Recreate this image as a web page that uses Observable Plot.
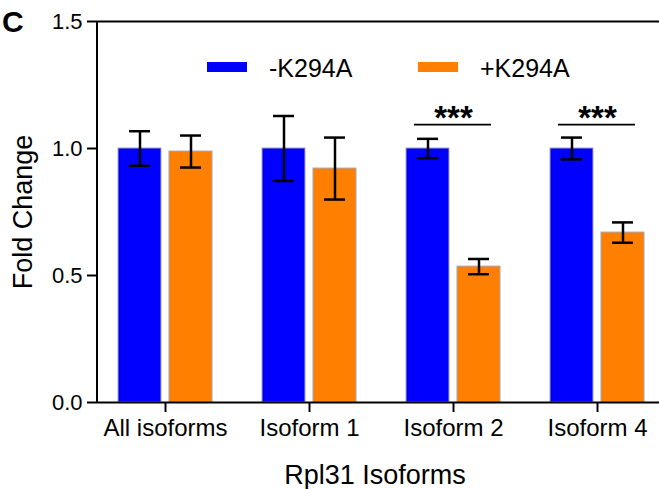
<!DOCTYPE html>
<html>
<head>
<meta charset="utf-8">
<script src="https://cdn.jsdelivr.net/npm/d3@7"></script>
<script src="https://cdn.jsdelivr.net/npm/@observablehq/plot@0.6"></script>
<style>
  body { margin: 0; background: #fff; }
  #chart { position: relative; width: 659px; height: 489px; }
  #chart svg [aria-label="x-axis label"] text, #chart svg [aria-label="y-axis label"] text { font-size: 27px; }
  #chart svg [aria-label="x-axis tick label"] text { font-size: 24px; }
  #chart svg [aria-label="x-axis tick"] path, #chart svg [aria-label="y-axis tick"] path { stroke-width: 2px; stroke: #000; }
</style>
</head>
<body>
<div id="chart"></div>
<script>
// ---- data ----
const groups = ["All isoforms", "Isoform 1", "Isoform 2", "Isoform 4"];
const series = ["-K294A", "+K294A"];
const minusMean = [1.0, 1.0, 1.0, 1.0];
const minusErr = [0.068, 0.128, 0.038, 0.043];
const plusMean = [0.988, 0.921, 0.535, 0.669];
const plusErr = [0.063, 0.122, 0.030, 0.040];
const colors = ["#0000ff", "#ff8000"];
const yTicks = [0, 0.5, 1.0, 1.5];
const sigGroups = ["Isoform 2", "Isoform 4"];
const sigLabel = "***";
const sigLevel = 1.094;
const xTitle = "Rpl31 Isoforms";
const yTitle = "Fold Change";
const panelLetter = "C";

// ---- tables ----
const minusRows = groups.map((g, i) => ({group: g, series: series[0], mean: minusMean[i], err: minusErr[i]}));
const plusRows = groups.map((g, i) => ({group: g, series: series[1], mean: plusMean[i], err: plusErr[i]}));
const capsOf = rows => rows.flatMap(d => [{group: d.group, v: d.mean - d.err}, {group: d.group, v: d.mean + d.err}]);
const sig = sigGroups.map(g => ({group: g, y: sigLevel}));
const hLines = [yTicks[0], yTicks[yTicks.length - 1]];

const W = 659, H = 489, ML = 97, MR = 7, MT = 21, MB = 87;
const font = '"Liberation Sans", Arial, Helvetica, sans-serif';
const barStroke = "#a4a4b4";

const plot = Plot.plot({
  width: W, height: H,
  marginLeft: ML, marginRight: MR, marginTop: MT, marginBottom: MB,
  style: {fontFamily: font, fontSize: "22px", color: "#000", background: "#fff", overflow: "visible"},
  x: {domain: groups, paddingInner: 50 / 144, paddingOuter: 29 / 288, align: 21 / 29, round: false,
      tickSize: 10, tickPadding: 6, label: xTitle, labelAnchor: "center", labelOffset: 81, labelArrow: "none"},
  y: {domain: [0, 1.5], ticks: yTicks, tickFormat: ".1f", tickSize: 10, tickPadding: 5,
      label: yTitle, labelAnchor: "center", labelOffset: 85, labelArrow: "none"},
  color: {domain: series, range: colors},
  marks: [
    Plot.barY(minusRows, {x: "group", y: "mean", fill: "series", insetRight: 51, stroke: barStroke, strokeWidth: 1}),
    Plot.barY(plusRows, {x: "group", y: "mean", fill: "series", insetLeft: 51, stroke: barStroke, strokeWidth: 1}),
    Plot.ruleX(minusRows, {x: "group", y1: d => d.mean - d.err, y2: d => d.mean + d.err, dx: -25.5, stroke: "#000", strokeWidth: 2.5}),
    Plot.ruleX(plusRows, {x: "group", y1: d => d.mean - d.err, y2: d => d.mean + d.err, dx: 25.5, stroke: "#000", strokeWidth: 2.5}),
    Plot.tickY(capsOf(minusRows), {x: "group", y: "v", insetLeft: 11, insetRight: 62, stroke: "#000", strokeWidth: 2.5}),
    Plot.tickY(capsOf(plusRows), {x: "group", y: "v", insetLeft: 62, insetRight: 11, stroke: "#000", strokeWidth: 2.5}),
    Plot.tickY(sig, {x: "group", y: "y", insetLeft: 8, insetRight: 9, stroke: "#000", strokeWidth: 1.6}),
    Plot.text(sig, {x: "group", y: "y", text: () => sigLabel, lineAnchor: "bottom", dy: 4, fontSize: 33, fontWeight: "bold"}),
    Plot.ruleY(hLines, {y: d => d, insetRight: -MR, stroke: "#000", strokeWidth: 2})
  ]
});

// y-axis line using Plot's y scale
const ys = plot.scale("y");
const svg = d3.select(plot);
svg.append("line")
  .attr("x1", ML).attr("x2", ML)
  .attr("y1", ys.apply(hLines[0])).attr("y2", ys.apply(hLines[1]))
  .attr("stroke", "#000").attr("stroke-width", 2);

// legend (inside plot area)
const cs = plot.scale("color");
const lg = svg.append("g").attr("font-family", font).attr("font-size", 25).attr("text-anchor", "start");
const legendX = [207, 418];
series.forEach((s, i) => {
  lg.append("rect").attr("x", legendX[i]).attr("y", 62).attr("width", 40).attr("height", 10).attr("fill", cs.apply(s));
  lg.append("text").attr("x", legendX[i] + 62).attr("y", 77).attr("fill", "#000").text(s);
});

// panel letter
svg.append("text").attr("x", 2).attr("y", 32).attr("font-family", font).attr("text-anchor", "start")
  .attr("font-size", 30).attr("font-weight", "bold").attr("fill", "#000").text(panelLetter);

document.getElementById("chart").appendChild(plot);
</script>
</body>
</html>
